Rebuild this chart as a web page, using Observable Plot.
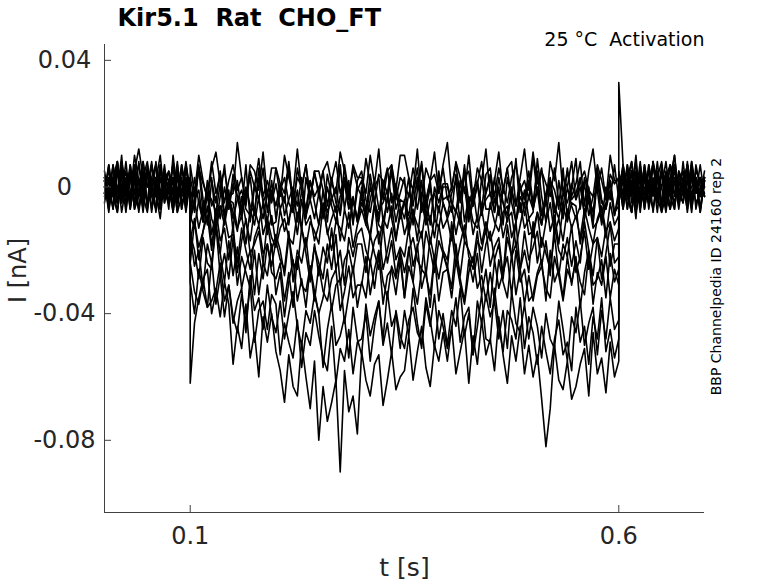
<!DOCTYPE html>
<html><head><meta charset="utf-8">
<script src="https://cdn.jsdelivr.net/npm/d3@7"></script>
<script src="https://cdn.jsdelivr.net/npm/@observablehq/plot@0.6"></script>
<style>body{margin:0;background:#fff;} svg{display:block}</style>
</head><body><div id="chart"></div>
<script>
// ---- text ----
const titleText = "Kir5.1  Rat  CHO_FT";
const conditionText = "25 °C  Activation";
const sourceText = "BBP Channelpedia ID 24160 rep 2";
const xLabel = "t [s]";
const yLabel = "I [nA]";

// ---- axes ----
const xDomain = [0, 0.7];
const yDomain = [-0.1028, 0.045];
const xTicks = [0.1, 0.6];
const xTickLabels = ["0.1", "0.6"];
const yTicks = [-0.08, -0.04, 0, 0.04];
const yTickLabels = ["-0.08", "-0.04", "0", "0.04"];

// ---- sampling grid (s): pre-step, step (0.1–0.6 s), post-step ----
const tPre = d3.range(21).map(i => +(i * 0.005).toFixed(3));
const tStep = d3.range(101).map(i => +(0.1 + i * 0.005).toFixed(3));
const tPost = d3.range(21).map(i => +(0.6 + i * 0.005).toFixed(3));
const time = [...tPre, ...tStep, ...tPost];

// ---- current traces, pA ----
const trA = [3,-5,7,-2,10,-7,2,5,12,3,0,8,-3,-7,5,2,-5,7,-2,3,0,
 3,-4,6,1,-3,8,-2,4,-5,2, 7,-1,3,-6,5,0,9,-3,2,-4, 6,1,-2,8,-5,3,0,7,-3,4, -1,5,-6,2,8,-2,3,-4,6,0,
 -3,9,1,-5,4,2,-2,7,-4,3, 1,-3,6,-1,8,-5,2,4,-2,6, -4,0,7,-3,3,5,-6,1,8,-2, 4,-3,6,0,-5,3,7,-1,2,-4,
 9,-2,5,1,-3,6,-5,3,0,8, -4,2,5,-1,-3,7,2,-4,4,1, 3,
 33,7,-3,5,-8,0,3,-5,8,-2,5,-7,2,10,-3,-2,7,-5,3,-8,2];
const trB = [-2,7,-3,5,-8,0,3,-5,8,-2,5,-7,2,10,-3,-2,7,-5,3,-8,2,
 -9,-4,-1,-11,2,-6,-3,-10,0,-7, 1,-3,-10,0,-6,-8,3,-4,-11,-1, -6,1,-9,-4,0,-11,-1,-7,2,-5, -12,-1,-8,-4,0,-9,2,-6,-3,-11,
 0,-12,-4,2,-7,-5,-1,-10,1,-6, -10,-2,-6,3,-8,-3,-12,0,-5,1, 1,-5,-8,-2,0,-10,-5,1,-7,-4, -2,-8,3,-5,-11,-1,-6,1,-9,-3,
 -7,0,-9,-3,2,-6,-10,-2,-5,1, -4,0,-9,-2,-11,2,-5,-7,-1,-9, -3,
 5,-3,0,8,-5,3,-7,2,7,-3,-8,3,0,5,-2,-5,8,-3,2,-7,3];
const trC = [5,-3,0,8,-5,3,-7,2,7,-3,-8,3,0,5,-2,-5,8,-3,2,-7,3,
 -9,3,-5,-11,-2,-4,-8,1,-10,-3, -10,-4,-1,-7,-9,1,-4,-10,-2,-5, 1,-7,-3,-12,-1,-6,3,-9,-4,-10, -2,-9,0,-6,-11,-3,1,-7,-4,-10,
 -3,-10,0,-5,-9,2,-8,-2,-11,-4, -5,-9,0,-7,2,-11,-4,-2,-8,0, 0,-5,-8,2,-11,-3,-6,1,-9,-2, 3,-8,-1,-5,-9,0,-11,-3,-6,2,
 -7,-1,-12,-4,2,-8,-3,-10,0,-6, -10,-6,1,-9,-3,-1,-12,-5,2,-8, -6,
 -3,2,-7,5,0,-5,7,-2,3,-8,5,0,-3,7,-5,2,-2,8,-7,0,-2];
const trD = [-3,2,-7,5,0,-5,7,-2,3,-8,5,0,-3,7,-5,2,-2,8,-7,0,-2,
 -11,-4,-13,-7,-2,-10,-14,-6,-9,-3, -8,-14,-3,-11,-17,-7,-12,-5,-15,-9, -18,-7,-14,-10,-6,-15,-4,-12,-9,-17, -12,-5,-15,-10,-6,-17,-7,-13,-4,-11,
 -5,-9,-16,-6,-12,-14,-3,-10,-17,-7, -15,-10,-7,-17,-4,-12,-9,-16,-6,-13, -10,-6,-15,-8,-17,-4,-11,-13,-7,-15, -5,-11,-14,-8,-6,-16,-11,-5,-13,-10,
 -16,-8,-12,-3,-14,-9,-18,-6,-11,-5, -6,-18,-10,-4,-13,-11,-7,-16,-5,-12, -9,
 2,-7,3,0,-3,8,-5,2,-2,5,-7,3,7,-2,0,-5,3,-3,5,2,-3];
const trE = [2,-7,3,0,-3,8,-5,2,-2,5,-7,3,7,-2,0,-5,3,-3,5,2,-3,
 -9,-13,-4,-11,-2,-15,-8,-6,-12,-4, -5,-13,-9,-18,-7,-12,-3,-15,-10,-16, -19,-13,-10,-16,-18,-8,-13,-19,-11,-14, -18,-6,-14,-20,-11,-13,-17,-8,-19,-12,
 -7,-12,-15,-5,-18,-10,-13,-6,-16,-9, -4,-15,-8,-12,-16,-7,-18,-10,-13,-5, -10,-17,-7,-12,-16,-5,-15,-9,-18,-11, -17,-13,-6,-16,-10,-8,-19,-12,-5,-15,
 -14,-8,-19,-11,-5,-15,-10,-17,-7,-13, -9,-16,-7,-13,-18,-10,-6,-14,-11,-17, -13,
 0,5,-3,-8,3,2,-5,7,-2,-3,5,2,-7,3,-2,0,7,-5,2,-3,3];
const trF = [0,5,-3,-8,3,2,-5,7,-2,-3,5,2,-7,3,-2,0,7,-5,2,-3,3,
 -24,-11,-19,-14,-9,-20,-7,-17,-13,-23, -12,-27,-17,-10,-21,-18,-14,-24,-11,-20, -15,-20,-28,-16,-24,-26,-13,-21,-30,-18, -28,-19,-24,-13,-26,-20,-31,-16,-22,-15,
 -13,-20,-24,-17,-14,-26,-20,-13,-23,-19, -22,-13,-25,-19,-14,-28,-16,-23,-12,-20, -23,-14,-25,-18,-12,-22,-26,-17,-20,-13, -25,-19,-16,-28,-12,-22,-18,-26,-14,-23,
 -19,-14,-25,-17,-28,-12,-20,-23,-16,-25, -17,-24,-11,-20,-28,-16,-22,-13,-25,-18, -18,
 -3,5,-7,2,-10,7,-2,-5,8,-3,0,-8,3,7,-5,-2,5,-7,2,-3,0];
const trG = [2,-7,3,-5,8,0,-3,5,-8,2,-5,7,-2,-10,3,2,-7,5,-3,8,-2,
 -17,-10,-23,-14,-6,-18,-12,-21,-9,-16, -15,-24,-13,-20,-26,-16,-12,-21,-18,-25, -17,-23,-26,-14,-30,-20,-24,-16,-28,-19, -24,-29,-18,-26,-15,-31,-23,-20,-27,-18,
 -18,-27,-15,-21,-26,-12,-24,-17,-28,-20, -27,-20,-16,-23,-26,-14,-20,-27,-17,-21, -26,-11,-21,-28,-17,-20,-24,-14,-27,-18, -14,-23,-18,-29,-16,-22,-11,-26,-20,-27,
 -11,-24,-16,-21,-26,-15,-28,-18,-22,-12, -27,-22,-14,-26,-18,-16,-29,-21,-12,-24, -22,
 -5,3,0,-8,5,-3,7,-2,-7,3,8,-3,0,-5,2,5,-8,3,-2,7,-3];
const trH = [-5,3,0,-8,5,-3,7,-2,-7,3,8,-3,0,-5,2,5,-8,3,-2,7,-3,
 -15,-20,-29,-16,-24,-26,-12,-21,-30,-17, -28,-19,-32,-25,-20,-34,-21,-29,-18,-27, -29,-24,-36,-27,-38,-22,-31,-33,-25,-36, -25,-33,-36,-29,-26,-39,-33,-25,-35,-31,
 -31,-22,-34,-26,-20,-30,-35,-25,-29,-21, -35,-25,-30,-18,-32,-26,-38,-22,-29,-21, -25,-32,-18,-29,-36,-23,-30,-21,-34,-26, -38,-23,-32,-27,-22,-34,-20,-30,-26,-36,
 -34,-27,-23,-36,-20,-30,-26,-35,-22,-31, -22,-38,-27,-20,-31,-29,-23,-35,-21,-30, -26,
 3,-2,7,-5,0,5,-7,2,-3,8,-5,0,3,-7,5,-2,2,-8,7,0,2];
const trI = [3,-2,7,-5,0,5,-7,2,-3,8,-5,0,3,-7,5,-2,2,-8,7,0,2,
 -15,-25,-20,-32,-18,-24,-12,-28,-21,-29, -16,-31,-22,-27,-32,-20,-34,-24,-28,-18, -34,-27,-41,-30,-23,-36,-29,-38,-25,-33, -40,-35,-26,-39,-31,-29,-43,-34,-25,-38,
 -30,-35,-23,-32,-21,-37,-28,-26,-34,-23, -35,-19,-30,-37,-26,-28,-34,-22,-36,-27, -26,-35,-23,-31,-37,-27,-22,-32,-28,-36, -27,-36,-23,-30,-35,-21,-34,-26,-37,-28,
 -36,-28,-25,-32,-35,-22,-28,-36,-26,-30, -23,-30,-34,-21,-37,-27,-31,-22,-35,-26, -31,
 -2,7,-3,0,3,-8,5,-2,2,-5,7,-3,-7,2,0,5,-3,3,-5,-2,3];
const trJ = [-2,7,-3,0,3,-8,5,-2,2,-5,7,-3,-7,2,0,5,-3,3,-5,-2,3,
 -24,-33,-37,-29,-26,-40,-33,-24,-36,-31, -43,-36,-32,-46,-28,-39,-35,-45,-31,-41, -46,-36,-48,-40,-33,-44,-50,-39,-43,-34, -40,-57,-45,-37,-50,-47,-41,-54,-38,-48,
 -53,-37,-47,-41,-36,-48,-33,-44,-40,-51, -39,-47,-32,-43,-51,-37,-44,-34,-48,-40, -50,-39,-44,-32,-47,-40,-53,-36,-43,-34, -41,-36,-48,-39,-51,-33,-43,-46,-37,-48,
 -38,-44,-54,-40,-48,-51,-36,-45,-55,-41, -46,-36,-50,-43,-38,-53,-39,-48,-35,-45, -42,
 0,-5,3,8,-3,-2,5,-7,2,3,-5,-2,7,-3,2,0,-7,5,-2,3,-3];
const trK = [0,-5,3,8,-3,-2,5,-7,2,3,-5,-2,7,-3,2,0,-7,5,-2,3,-3,
 -30,-40,-26,-33,-38,-23,-37,-28,-41,-31, -41,-46,-34,-43,-31,-49,-39,-36,-45,-34, -37,-53,-43,-49,-54,-42,-57,-46,-50,-39, -47,-54,-58,-44,-62,-51,-55,-45,-59,-49,
 -48,-40,-55,-44,-36,-50,-43,-53,-39,-47, -51,-42,-38,-46,-49,-35,-42,-51,-39,-44, -51,-45,-35,-49,-41,-38,-53,-44,-34,-48, -49,-32,-44,-52,-39,-42,-48,-35,-51,-41,
 -46,-56,-44,-52,-59,-48,-42,-53,-49,-58, -38,-49,-44,-56,-41,-48,-35,-52,-45,-54, -48,
 3,-5,7,-2,10,-7,2,5,-8,3,0,8,-3,-7,5,2,-5,7,-2,3,0];
const trL = [0,3,-2,7,-5,2,5,-7,-3,8,0,3,-8,5,2,-7,10,-2,7,-5,3,
 -62,-43,-35,-29,-38,-36,-32,-41,-30,-37, -56,-44,-51,-37,-54,-46,-60,-41,-49,-40, -52,-58,-68,-53,-63,-66,-49,-60,-70,-55, -80,-63,-74,-68,-61,-90,-58,-71,-66,-78,
 -52,-61,-66,-56,-53,-69,-61,-52,-64,-60, -58,-47,-61,-52,-44,-57,-63,-50,-55,-46, -55,-44,-59,-52,-45,-62,-47,-56,-42,-53, -48,-58,-41,-53,-62,-47,-55,-44,-59,-50,
 -60,-53,-67,-82,-70,-50,-61,-64,-55,-67, -63,-56,-51,-66,-46,-59,-54,-65,-49,-60, -55,
 -2,7,-3,5,-8,0,3,-5,8,-2,5,-7,2,10,-3,-2,7,-5,3,-8,2];
const trM = [2,-8,3,-5,7,-2,-3,10,2,-7,5,-2,8,-5,3,0,-8,5,-3,7,-2,
 0,-8,7,-4,-12,2,-5,5,-9,-1, -14,2,-8,-2,3,-9,6,-5,-1,-12, -11,0,-5,7,-8,-1,-14,3,-4,5, 5,-1,-11,3,-5,-8,7,-2,-12,2,
 5,-4,-8,0,3,-11,-4,5,-7,-2, 3,-14,-2,6,-7,-4,2,-11,5,-5, -9,-2,2,-12,6,-5,-1,-11,3,-7, -7,3,-9,-1,6,-5,-11,0,-4,5,
 -5,5,-9,-2,3,-12,2,-7,6,-4, -2,3,-9,0,-12,6,-4,-7,2,-9, -1,
 -3,2,5,-3,3,-5,0,-2,7,3,-7,5,-2,2,-5,8,-3,0,3,-7,2];
const trN = [3,-3,2,-5,7,0,-2,3,-7,2,5,-3,-2,7,-5,2,3,-8,-3,5,0,
 -10,-4,6,-8,0,3,-12,-3,7,-7, 4,-3,-7,7,-11,0,-4,6,-8,2, -10,-1,3,-5,-8,6,-1,-10,2,-3, 0,-10,4,-3,-8,7,-7,2,-11,-1,
 2,-8,4,-4,-11,0,6,-5,-1,-10, -5,3,-12,-1,7,-7,0,-10,4,-4, -3,-8,4,-5,7,-11,-1,2,-7,4, 6,-5,0,-12,3,-4,9,-8,-1,-10,
 -8,9,-3,-11,2,-1,-7,6,-10,0, 9,-7,3,-3,-8,4,-11,0,-4,7, -4,
 3,-7,2,-3,8,-5,-2,5,0,3,-8,-3,7,2,-7,3,-5,8,0,-3,5];
const trO = [-2,0,-7,8,-2,2,-5,7,-3,0,5,-8,3,-2,7,-5,0,5,-7,2,-3,
 7,-2,10,2,-4,6,11,1,5,-3, -2,14,3,-4,7,5,-1,11,-3,6, 6,-3,10,3,-2,12,-1,7,-4,5, -3,5,8,1,-2,11,5,-3,7,3,
 3,-2,10,1,12,-4,5,7,-1,10, 10,3,-1,12,-4,6,2,11,-2,7, 14,-1,8,3,-2,10,-4,6,2,12, -3,2,11,-2,6,8,-6,3,12,-1,
 11,1,6,-6,8,2,14,-2,5,-3, 1,8,-6,5,12,-1,6,-4,10,2, 2,
 0,5,-3,-8,3,2,-5,7,-2,-3,5,2,-7,3,-2,0,7,-5,2,-3,3];

const traceNames = ["A","B","C","D","E","F","G","H","I","J","K","L","M","N","O"];
const traces = [trA,trB,trC,trD,trE,trF,trG,trH,trI,trJ,trK,trL,trM,trN,trO];

const rows = traces.flatMap((arr, k) =>
  arr.slice(0, time.length).map((v, i) => ({t: time[i], I: v / 1000, trace: traceNames[k]})));

const axisColor = "#404040";
const textColor = "#262626";

const chart = Plot.plot({
  width: 778, height: 583,
  marginTop: 44, marginBottom: 71, marginLeft: 104, marginRight: 74,
  style: {fontFamily: "DejaVu Sans", fontSize: "24px", color: textColor, background: "white"},
  x: {domain: xDomain, ticks: xTicks, tickFormat: d => xTickLabels[xTicks.indexOf(d)], tickSize: 0, tickPadding: 14, label: null},
  y: {domain: yDomain, axis: null},
  marks: [
    Plot.line(rows, {x: "t", y: "I", z: "trace", stroke: "black", strokeWidth: 1.6}),
    Plot.ruleX([xDomain[0]], {stroke: axisColor}),
    Plot.ruleY([yDomain[0]], {stroke: axisColor}),
    Plot.tickX(xTicks, {x: d => d, insetTop: 461, stroke: axisColor}),
    Plot.tickY(yTicks, {y: d => d, insetRight: 593, stroke: axisColor}),
    Plot.text(yTicks, {y: d => d, text: (d, i) => yTickLabels[i], frameAnchor: "left", textAnchor: "middle", lineAnchor: "middle", dx: -40, fontSize: 24, fill: textColor}),
    Plot.text([titleText], {frameAnchor: "top-left", textAnchor: "start", lineAnchor: "top", dx: 13, dy: -36, fontSize: 24, fontWeight: "bold", fill: "black"}),
    Plot.text([conditionText], {frameAnchor: "top-right", textAnchor: "end", lineAnchor: "top", dx: 0, dy: -12, fontSize: 19, fill: "black"}),
    Plot.text([sourceText], {frameAnchor: "right", textAnchor: "middle", lineAnchor: "middle", rotate: -90, dx: 12, dy: -2, fontSize: 14, fill: "black"}),
    Plot.text([yLabel], {frameAnchor: "left", textAnchor: "middle", lineAnchor: "middle", rotate: -90, dx: -86, dy: -8, fontSize: 24, fill: textColor}),
    Plot.text([xLabel], {frameAnchor: "bottom", textAnchor: "middle", lineAnchor: "middle", dy: 55, fontSize: 25, fill: textColor})
  ]
});
document.getElementById("chart").append(chart);
</script>
</body></html>
